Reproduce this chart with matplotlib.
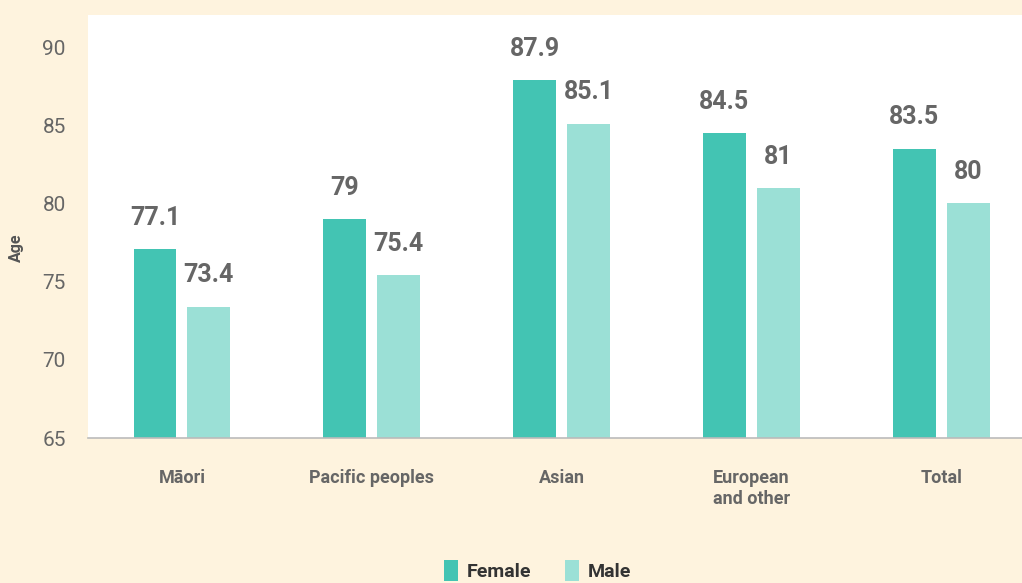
import matplotlib.pyplot as plt
import numpy as np

# Life expectancy by ethnicity
groups = ['Māori', 'Pacific peoples', 'Asian', 'European\nand other', 'Total']
female = [77.1, 79, 87.9, 84.5, 83.5]
male = [73.4, 75.4, 85.1, 81, 80]
female_labels = ['77.1', '79', '87.9', '84.5', '83.5']
male_labels = ['73.4', '75.4', '85.1', '81', '80']
yticks = [65, 70, 75, 80, 85, 90]

bg = '#fef3de'
c_female = '#43c4b3'
c_male = '#9be0d6'
grey = '#666666'

plt.rcParams['font.family'] = ['Roboto', 'DejaVu Sans']

fig = plt.figure(figsize=(10.22, 5.83), dpi=100, facecolor=bg)
ax = fig.add_axes([0.0861, 0.2487, 0.9139, 0.7256])
ax.set_facecolor('white')

x = np.arange(len(groups))
w = 0.226
off = 0.142
ax.bar(x - off, female, width=w, color=c_female, label='Female', zorder=2)
ax.bar(x + off, male, width=w, color=c_male, label='Male', zorder=2)

for xi, v, s in zip(x - off, female, female_labels):
    ax.text(xi, v + 2.0, s, ha='center', va='center', fontsize=18,
            fontweight='bold', color=grey)
for xi, v, s in zip(x + off, male, male_labels):
    ax.text(xi, v + 2.0, s, ha='center', va='center', fontsize=18,
            fontweight='bold', color=grey)

ax.set_ylim(65, 92.05)
ax.set_xlim(-0.495, 4.426)
ax.set_yticks(yticks)
ax.set_xticks(x)
ax.set_xticklabels(groups, fontsize=13, fontweight='bold', color=grey,
                   linespacing=1.25, va='top')
ax.tick_params(axis='y', length=0, pad=16, labelsize=15, labelcolor=grey)
ax.tick_params(axis='x', length=0, pad=22)

for s in ['top', 'right', 'left']:
    ax.spines[s].set_visible(False)
ax.spines['bottom'].set_color('#bbbbbb')
ax.spines['bottom'].set_linewidth(1.2)

fig.text(0.016, 0.575, 'Age', rotation=90, ha='center', va='center',
         fontsize=11.5, fontweight='bold', color='#555555')

fig.legend(loc='center', bbox_to_anchor=(0.526, 0.022), ncol=2, frameon=False,
           handlelength=0.75, handleheight=1.3, handletextpad=0.45,
           columnspacing=1.7, prop={'size': 14, 'weight': 'bold'},
           labelcolor='#333333')

fig.savefig('out.png', dpi=100, facecolor=bg)
